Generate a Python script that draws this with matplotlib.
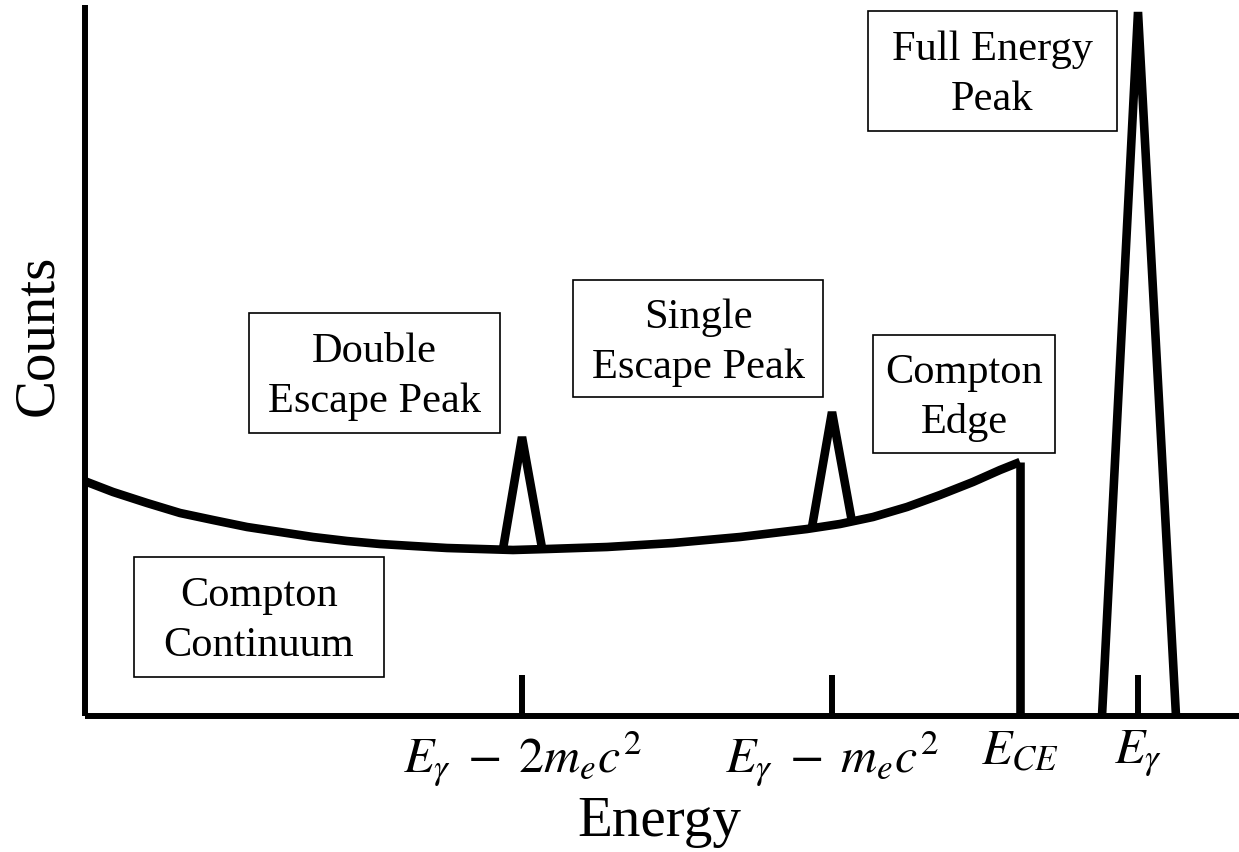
import matplotlib
matplotlib.use("Agg")
import matplotlib.pyplot as plt
from matplotlib.patches import Rectangle

plt.rcParams["font.family"] = ["Liberation Serif", "DejaVu Serif"]
plt.rcParams["mathtext.fontset"] = "stix"

# Compton continuum (energy, counts) up to the Compton edge
cont_e = [0, 2, 28, 62, 95, 128, 162, 195, 228, 262, 295, 328, 362, 395, 428,
          462, 522, 588, 655, 722, 755, 788, 822, 855, 888, 915, 935]
cont_c = [235, 234, 224, 213, 203, 196, 189, 184, 179, 175, 172, 170, 168, 167,
          166, 167, 169, 173, 179, 187, 192, 199, 209, 221, 234, 246, 254]

# Compton edge drop
edge_e = [935, 935]
edge_c = [254, 0]

# escape peaks: left base, apex, right base
dep_e = [418, 437, 457]
dep_c = [167, 279, 168]
sep_e = [727, 747, 767]
sep_c = [189, 304, 194]

# full energy peak
fep_e = [1017, 1053, 1091]
fep_c = [0, 704, 0]

tick_pos = [437, 747, 1053]
tick_lab = [r"$E_{\gamma}\;-\;2m_ec^2$", r"$E_{\gamma}\;-\;m_ec^2$", r"$E_{\gamma}$"]
edge_tick = [935]
edge_lab = [r"$E_{CE}$"]

# label boxes: (x0, y0, w, h, text)
boxes = [
    (164, 283, 251, 120, "Double\nEscape Peak"),
    (488, 319, 250, 117, "Single\nEscape Peak"),
    (788, 263, 182, 118, "Compton\nEdge"),
    (783, 585, 249, 120, "Full Energy\nPeak"),
    (49, 39, 250, 120, "Compton\nContinuum"),
]

fig = plt.figure(figsize=(12.39, 8.52), dpi=100)
ax = fig.add_axes([85 / 1239, 136 / 852, 1154 / 1239, 711 / 852])

lw = 6.2
ax.plot(cont_e, cont_c, color="black", lw=lw, solid_capstyle="butt",
        solid_joinstyle="round")
for xs, ys in [(edge_e, edge_c), (dep_e, dep_c), (sep_e, sep_c), (fep_e, fep_c)]:
    ax.plot(xs, ys, color="black", lw=lw, solid_capstyle="butt",
            solid_joinstyle="bevel")

for x0, y0, w, h, txt in boxes:
    ax.add_patch(Rectangle((x0, y0), w, h, facecolor="white",
                           edgecolor="black", lw=1.2, zorder=3))
    ax.text(x0 + w / 2, y0 + h / 2 - 4, txt, ha="center", va="center",
            fontsize=30.5, linespacing=1.38, zorder=4)

ax.set_xlim(0, 1154)
ax.set_ylim(0, 711)
for s in ("top", "right"):
    ax.spines[s].set_visible(False)
for s in ("left", "bottom"):
    ax.spines[s].set_linewidth(4.3)
    ax.spines[s].set_capstyle("butt")

ax.set_xticks(tick_pos)
ax.set_xticklabels(tick_lab)
ax.set_xticks(edge_tick, minor=True)
ax.set_xticklabels(edge_lab, minor=True)
ax.tick_params(axis="x", which="major", direction="in", length=29.5,
               width=4.3, labelsize=36, pad=9)
ax.tick_params(axis="x", which="minor", length=0, labelsize=36, pad=9)
ax.set_yticks([])

ax.set_xlabel("Energy", fontsize=41)
ax.xaxis.set_label_coords(0.498, -0.112)
ax.set_ylabel("Counts", fontsize=41)
ax.yaxis.set_label_coords(-0.018, 0.535)

fig.savefig("out.png", dpi=100)
